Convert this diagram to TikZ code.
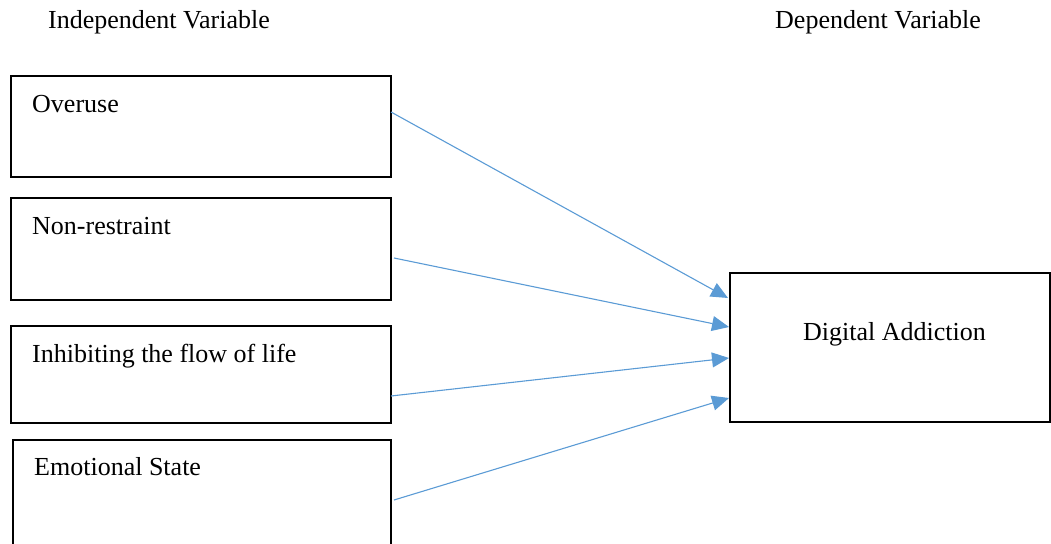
\documentclass[tikz,border=0pt]{standalone}
\usepackage{fontspec}
\setmainfont{Liberation Serif}
\usetikzlibrary{arrows.meta}
\definecolor{arrowblue}{RGB}{91,155,213}
\tikzset{
  box/.style={draw=black, line width=2pt, rectangle, inner sep=0pt},
  lbl/.style={anchor=base west, inner sep=0pt, font=\fontsize{26}{31}\selectfont},
  conn/.style={draw=arrowblue, line width=1.1pt, -{Triangle[length=17pt,width=15pt]}}
}
\begin{document}
\begin{tikzpicture}[x=1pt,y=-1pt]
\useasboundingbox (0,0) rectangle (1051,543);
% titles
\node[lbl] (tind) at (48,29) {Independent Variable};
\node[lbl] (tdep) at (775,29) {Dependent Variable};
% independent boxes
\node[box, minimum width=380pt, minimum height=101pt] (b1) at (201,126.5) {};
\node[box, minimum width=380pt, minimum height=102pt] (b2) at (201,249) {};
\node[box, minimum width=380pt, minimum height=97pt] (b3) at (201,374.5) {};
\node[box, minimum width=378pt, minimum height=130pt] (b4) at (202,505) {};
\node[lbl] (l1) at (32,112) {Overuse};
\node[lbl] (l2) at (32,234) {Non-restraint};
\node[lbl] (l3) at (32,362) {Inhibiting the flow of life};
\node[lbl] (l4) at (34,475) {Emotional State};
% dependent box
\node[box, minimum width=320pt, minimum height=149pt] (d) at (890,347.5) {};
\node[lbl] (ld) at (803,340) {Digital Addiction};
% connectors
\coordinate (s1) at (391,112);
\coordinate (s2) at (394,258);
\coordinate (s3) at (391,396);
\coordinate (s4) at (394,500);
\coordinate (e1) at (728,298);
\coordinate (e2) at (729,327);
\coordinate (e3) at (729,358);
\coordinate (e4) at (729,398);
\draw[conn] (s1) -- (e1);
\draw[conn] (s2) -- (e2);
\draw[conn] (s3) -- (e3);
\draw[conn] (s4) -- (e4);
\end{tikzpicture}
\end{document}
